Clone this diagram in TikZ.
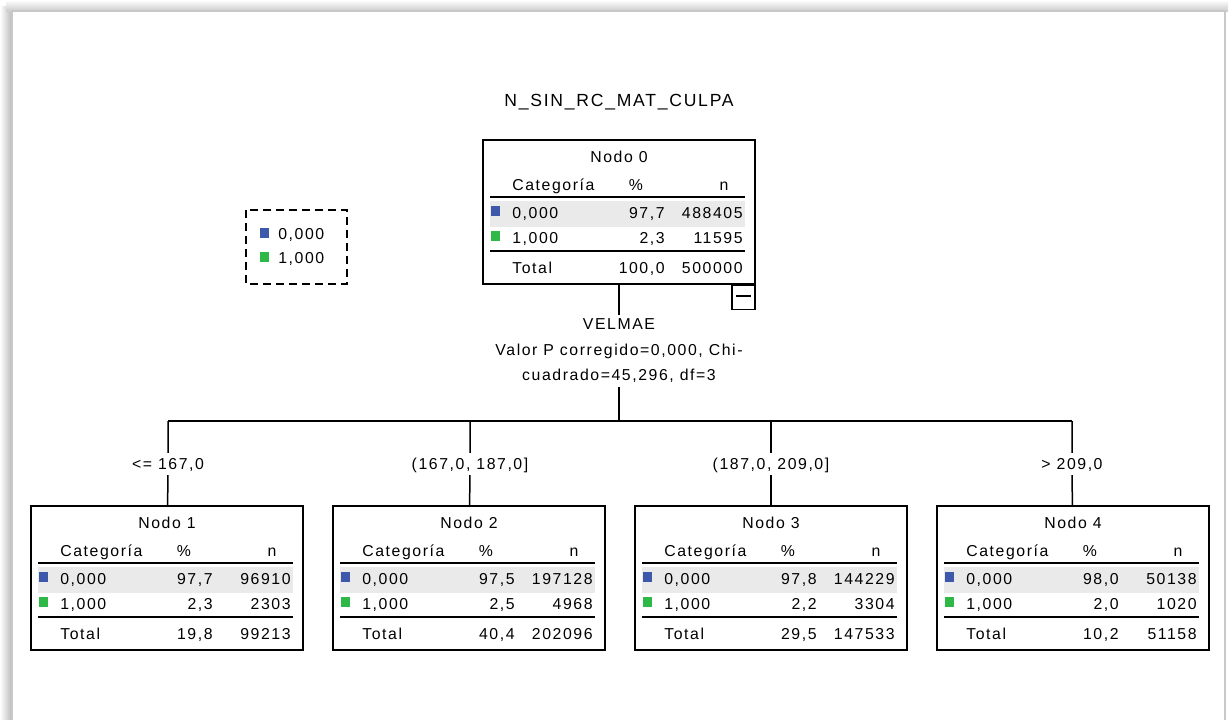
\documentclass[tikz,border=0pt]{standalone}
\usepackage{fontspec}
\newfontfamily\spss{Liberation Sans}[LetterSpace=10]
\usetikzlibrary{positioning,calc}
\definecolor{catblue}{RGB}{62,88,172}
\definecolor{catgreen}{RGB}{46,184,72}
\definecolor{rowgray}{RGB}{234,234,234}
\definecolor{pagegray}{RGB}{200,200,200}

\tikzset{
  txt/.style={inner sep=0pt, text height=6.45pt, text depth=0pt, font=\spss\fontsize{9}{11}\selectfont},
  titletxt/.style={txt, text height=7.1pt, font=\spss\fontsize{10}{12}\selectfont},
  splittxt/.style={align=center, inner sep=0.07cm, font=\spss\fontsize{9}{14.5}\selectfont},
  edgetxt/.style={txt, inner xsep=0.06cm, inner ysep=0.1cm},
  boxframe/.style={draw=black, line width=0.03cm, minimum width=5.44cm, minimum height=2.88cm, inner sep=0pt},
  tablerule/.style={line width=0.03cm},
  swatch/.style={minimum size=0.19cm, inner sep=0pt},
  conn/.style={line width=0.03cm},
  pageedge/.style={draw=pagegray, line width=0.04cm}
}

\newcommand{\treebox}[9]{%
  \begin{scope}[shift={(#2)}]
    \fill[rowgray] (7,61) rectangle (262,87);
    \node[boxframe] (#1) at (136,72) {};
    \node[txt] at (136,17) {#3};
    \node[txt, anchor=west] at (29,45) {Categoría};
    \node[txt] at (153,45) {\%};
    \node[txt] at (241,45) {n};
    \draw[tablerule] (7,57) -- (262,57);
    \node[swatch, fill=catblue] at (12.5,71) {};
    \node[txt, anchor=west] at (29,73) {0,000};
    \node[txt, anchor=east] at (182,73) {#4};
    \node[txt, anchor=east] at (260,73) {#5};
    \node[swatch, fill=catgreen] at (12.5,96) {};
    \node[txt, anchor=west] at (29,98) {1,000};
    \node[txt, anchor=east] at (182,98) {#6};
    \node[txt, anchor=east] at (260,98) {#7};
    \draw[tablerule] (7,111) -- (262,111);
    \node[txt, anchor=west] at (29,128) {Total};
    \node[txt, anchor=east] at (182,128) {#8};
    \node[txt, anchor=east] at (260,128) {#9};
  \end{scope}}

\begin{document}
\begin{tikzpicture}[x=0.02cm, y=-0.02cm]
    \useasboundingbox (0,0) rectangle (1232,720);
    \shade[left color=white, right color=gray!55] (0,6) rectangle (12,720);
    \shade[top color=white, bottom color=gray!40] (6,0) rectangle (1228,11);
    \fill[white] (12,11) rectangle (1225,720);
    \draw[pageedge] (12,720) -- (12,11) -- (1225,11) -- (1225,720);

    \node[titletxt] (title) at (619,100) {N\_SIN\_RC\_MAT\_CULPA};

    \draw[line width=0.03cm, dash pattern=on 0.16cm off 0.1cm] (246,210) rectangle (347,284);
    \node[swatch, fill=catblue] (legblue) at (264.5,233) {};
    \node[txt, anchor=west] (legzero) at (278,234) {0,000};
    \node[swatch, fill=catgreen] (leggreen) at (264.5,257) {};
    \node[txt, anchor=west] (legone) at (278,258) {1,000};

    \treebox{n0}{483,140}{Nodo 0}{97,7}{488405}{2,3}{11595}{100,0}{500000}
    \node[draw, line width=0.03cm, minimum width=0.46cm, minimum height=0.48cm, anchor=north east] (collapse) at (n0.south east) {};
    \draw[line width=0.03cm] ([xshift=0.1cm, yshift=0.03cm]collapse.west) -- ([xshift=-0.1cm, yshift=0.03cm]collapse.east);

    \node[splittxt] (vel) at (619,351) {VELMAE\\Valor P corregido=0,000, Chi-\\cuadrado=45,296, df=3};

    \treebox{n1}{31,506}{Nodo 1}{97,7}{96910}{2,3}{2303}{19,8}{99213}
    \treebox{n2}{333,506}{Nodo 2}{97,5}{197128}{2,5}{4968}{40,4}{202096}
    \treebox{n3}{635,506}{Nodo 3}{97,8}{144229}{2,2}{3304}{29,5}{147533}
    \treebox{n4}{937,506}{Nodo 4}{98,0}{50138}{2,0}{1020}{10,2}{51158}

    \coordinate (s0) at (619,421);
    \coordinate (c1) at (168,421);
    \coordinate (c2) at (470,421);
    \coordinate (c3) at (771,421);
    \coordinate (c4) at (1072,421);
    \node[edgetxt] (e1) at (168,464) {<= 167,0};
    \node[edgetxt] (e2) at (470,464) {(167,0, 187,0]};
    \node[edgetxt] (e3) at (771,464) {(187,0, 209,0]};
    \node[edgetxt] (e4) at (1072,464) {> 209,0};

    \draw[conn] (n0) -- (vel);
    \draw[conn] (vel) -- (s0);
    \draw[conn] (c1) -- (c4);
    \foreach \i in {1,...,4}
        \draw[conn] (c\i) -- (e\i) -- (n\i);
\end{tikzpicture}
\end{document}
